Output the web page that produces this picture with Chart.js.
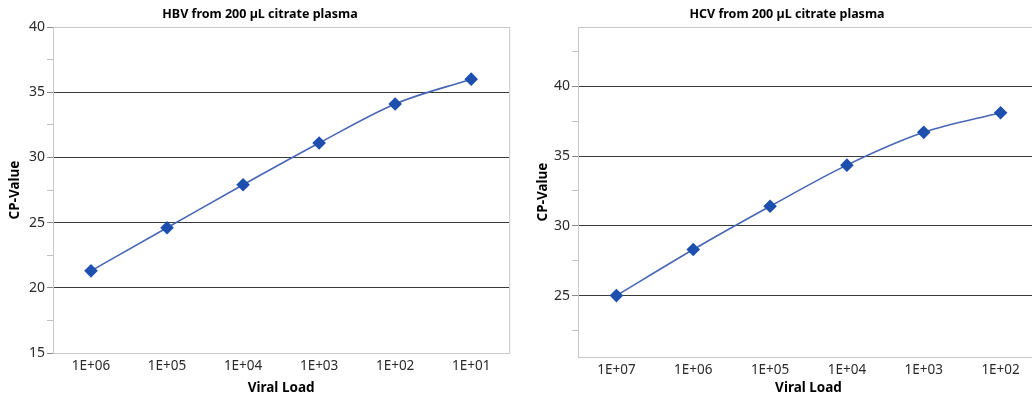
<!DOCTYPE html>
<html>
<head>
<meta charset="utf-8">
<script src="https://cdn.jsdelivr.net/npm/chart.js@4"></script>
<style>
  html, body { margin: 0; padding: 0; background: #fff; }
  #wrap { position: relative; width: 1032px; height: 396px; overflow: hidden; }
  #left { position: absolute; left: 0; top: 0; width: 516px; height: 396px; }
  #right { position: absolute; left: 516px; top: 0; width: 536px; height: 396px; }
</style>
</head>
<body>
<div id="wrap">
  <div id="left"><canvas id="hbv-chart"></canvas></div>
  <div id="right"><canvas id="hcv-chart"></canvas></div>
</div>
<script>
const hbvLabels = ["1E+06", "1E+05", "1E+04", "1E+03", "1E+02", "1E+01"];
const hbvValues = [21.3, 24.6, 27.9, 31.1, 34.1, 36.0];
const hbvTicks = [15, 17.5, 20, 22.5, 25, 27.5, 30, 32.5, 35, 37.5, 40];

const hcvLabels = ["1E+07", "1E+06", "1E+05", "1E+04", "1E+03", "1E+02"];
const hcvValues = [25.0, 28.3, 31.4, 34.35, 36.7, 38.1];
const hcvTicks = [22.5, 25, 27.5, 30, 32.5, 35, 37.5, 40, 42.5];

const LINE = "#4767b5";
const MARK = "#1d4fae";
const FONT = "'Noto Sans', 'DejaVu Sans', sans-serif";

// light box around the plot area
const frame = {
  id: "frame",
  beforeDatasetsDraw(chart) {
    const a = chart.chartArea, ctx = chart.ctx;
    ctx.save();
    ctx.strokeStyle = "#c8c8c8";
    ctx.lineWidth = 1;
    ctx.strokeRect(a.left + 0.5, a.top + 0.5, a.right - a.left, a.bottom - a.top);
    ctx.restore();
  },
};

function makeChart(id, title, labels, values, ticks, yMin, yMax, leftPad, rightPad, yWidth, xHeight) {
  const isMajor = v => Math.abs(v % 5) < 1e-9;
  return new Chart(document.getElementById(id), {
    type: "line",
    data: {
      labels,
      datasets: [{
        data: values,
        borderColor: LINE,
        borderWidth: 1.6,
        backgroundColor: MARK,
        pointStyle: "rectRot",
        pointRadius: 6.8,
        pointBorderWidth: 0,
        pointBackgroundColor: MARK,
        cubicInterpolationMode: "monotone",
        fill: false,
      }],
    },
    options: {
      responsive: true,
      maintainAspectRatio: false,
      animation: false,
      events: [],
      layout: { padding: { left: leftPad, right: rightPad, top: 0, bottom: 0 } },
      plugins: {
        legend: { display: false },
        tooltip: { enabled: false },
        title: {
          display: true,
          text: title,
          color: "#000",
          font: { family: FONT, size: 12.5, weight: "bold" },
          padding: { top: 7, bottom: 5 },
        },
      },
      scales: {
        x: {
          offset: true,
          grid: { display: false, drawTicks: false },
          border: { display: true, color: "#a8a8a8" },
          ticks: { color: "#2a2a2a", font: { family: FONT, size: 13.5 }, padding: 5 },
          title: {
            display: true,
            text: "Viral Load",
            color: "#000",
            font: { family: FONT, size: 13.5, weight: "bold" },
            padding: { top: 0, bottom: 0 },
          },
          afterFit: s => { s.height = xHeight; },
        },
        y: {
          min: yMin,
          max: yMax,
          afterBuildTicks: s => { s.ticks = ticks.map(v => ({ value: v })); },
          grid: {
            color: c => (isMajor(c.tick.value) && c.tick.value > yMin && c.tick.value < yMax) ? "#3a3a3a" : "rgba(0,0,0,0)",
            tickColor: c => isMajor(c.tick.value) ? "#8a8a8a" : "#c0c0c0",
            tickLength: 6,
          },
          border: { display: true, color: "#a8a8a8" },
          ticks: {
            autoSkip: false,
            color: "#2a2a2a",
            font: { family: FONT, size: 14 },
            padding: 2,
            callback: v => isMajor(v) ? String(v) : "",
          },
          title: {
            display: true,
            text: "CP-Value",
            color: "#000",
            font: { family: FONT, size: 13.5, weight: "bold" },
            padding: { top: 0, bottom: 4 },
          },
          afterFit: s => { s.width = yWidth; },
        },
      },
    },
    plugins: [frame],
  });
}

makeChart("hbv-chart", "HBV from 200 µL citrate plasma", hbvLabels, hbvValues, hbvTicks, 15, 40, 7, 3, 46, 43);
makeChart("hcv-chart", "HCV from 200 µL citrate plasma", hcvLabels, hcvValues, hcvTicks, 20.6, 44.25, 19, 13, 43, 39);
</script>
</body>
</html>
